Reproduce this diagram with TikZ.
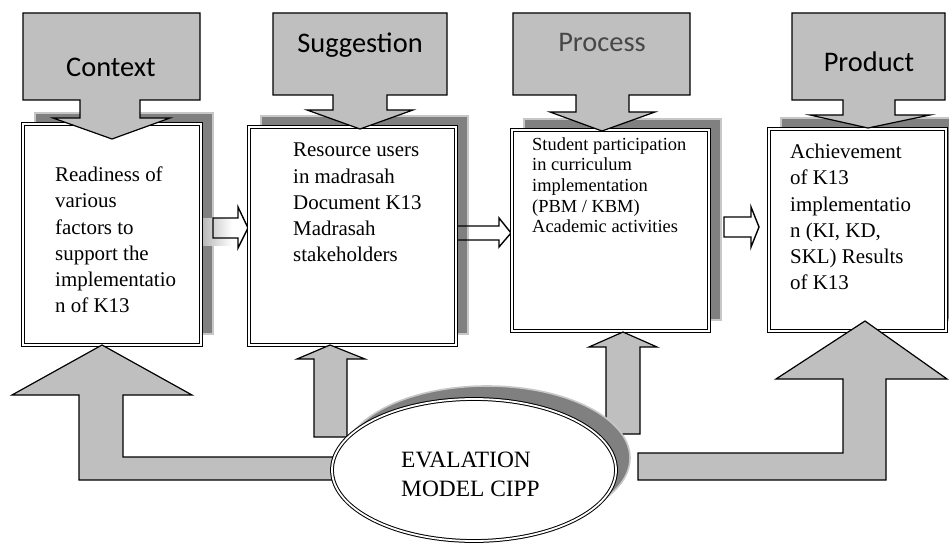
\documentclass[tikz,border=0pt]{standalone}
\usepackage{fontspec}
\setmainfont{Liberation Serif}
\newfontfamily\calib{Carlito}
\begin{document}
\begin{tikzpicture}[x=1bp,y=-1bp,
  shadowrect/.style={fill=black!50, draw=black!22, line width=1.6bp},
  dblbox/.style={draw=black, double=white, double distance=1.8bp, line width=1bp, fill=white},
  callout/.style={fill=black!25, draw=black, line width=1.2bp, line join=miter},
  hollow/.style={draw=black, line width=1.4bp, line join=miter},
  upshape/.style={fill=black!25, draw=black, line width=1.2bp, line join=miter},
  ttl/.style={font=\calib\fontsize{28.5}{30}\selectfont, inner sep=0pt, anchor=base},
  body/.style={font=\fontsize{21}{26.4}\selectfont, align=left, inner sep=0pt, anchor=base west},
  small/.style={font=\fontsize{18.5}{20.8}\selectfont, align=left, inner sep=0pt, anchor=base west}
]
\useasboundingbox (0,0) rectangle (949,545);

% box shadows
\path[shadowrect] (35,113) rectangle (213,334);
\path[shadowrect] (261,116) rectangle (468,334);
\path[shadowrect] (524,119) rectangle (721,320);
\path[shadowrect] (781,118) rectangle (970,320);

% faded band behind first arrow
\shade[left color=black!30, right color=white] (200,219) rectangle (232,246);

% horizontal hollow arrows
\draw[hollow] (213,218) -- (238,218) -- (238,207) -- (248,228) -- (238,248) -- (238,238) -- (213,238) -- cycle;
\draw[hollow] (455,226) -- (499,226) -- (499,218) -- (511,233) -- (499,247) -- (499,240) -- (455,240) -- cycle;
\draw[hollow] (724,217) -- (751,217) -- (751,207) -- (759,227) -- (751,247) -- (751,237) -- (724,237) -- cycle;

% boxes
\path[dblbox] (23,124) rectangle (201,345);
\path[dblbox] (249,127) rectangle (456,345);
\path[dblbox] (512,130) rectangle (709,331);
\path[dblbox] (769,129) rectangle (946,331);

% callouts
\path[callout] (23,13) -- (200,13) -- (200,100) -- (140,100) -- (140,118) -- (170,118) -- (112,139) -- (53,118) -- (80,118) -- (80,100) -- (23,100) -- cycle;
\path[callout] (273,13) -- (447,13) -- (447,95) -- (387,95) -- (387,110) -- (413,110) -- (360,129) -- (307,110) -- (333,110) -- (333,95) -- (273,95) -- cycle;
\path[callout] (513,13) -- (690,13) -- (690,95) -- (629,95) -- (629,112) -- (655,112) -- (602,131) -- (550,112) -- (576,112) -- (576,95) -- (513,95) -- cycle;
\path[callout] (792,13) -- (945,13) -- (945,100) -- (895,100) -- (895,115) -- (930,115) -- (868,128) -- (810,115) -- (843,115) -- (843,100) -- (792,100) -- cycle;

% upward arrows
\path[upshape] (79,480) -- (79,395) -- (12,395) -- (102,345) -- (192,395) -- (123,395) -- (123,457) -- (360,457) -- (360,480) -- cycle;
\path[upshape] (314,437) -- (314,359) -- (297,359) -- (330,345) -- (365,359) -- (347,359) -- (347,437) -- cycle;
\path[upshape] (606,434) -- (606,347) -- (589,347) -- (623,332) -- (657,347) -- (640,347) -- (640,434) -- cycle;
\path[upshape] (638,453) -- (843,453) -- (843,379) -- (776,379) -- (865,321) -- (947,379) -- (886,379) -- (886,480) -- (638,480) -- cycle;

% evaluation ellipse
\path[fill=black!50, draw=black!22, line width=1.6bp] (487,458) ellipse [x radius=143bp, y radius=72bp];
\path[dblbox] (474,470) ellipse [x radius=142bp, y radius=71bp];

% titles
\node[ttl] (tctx) at (111,77) {Context};
\node[ttl] (tsug) at (360,53) {Suggestion};
\node[ttl, text=black!72] (tpro) at (602,52) {Process};
\node[ttl] (tprd) at (869,72) {Product};

% box texts (anchor base = last line's baseline)
\node[body] (bctx) at (55,313) {Readiness of\\various\\factors to\\support the\\implementatio\\n of K13};
\node[body] (bsug) at (293,262) {Resource users\\in madrasah\\Document K13\\Madrasah\\stakeholders};
\node[small] (bpro) at (532,233) {Student participation\\in curriculum\\implementation\\(PBM / KBM)\\Academic activities};
\node[body] (bprd) at (790,290) {Achievement\\of K13\\implementatio\\n (KI, KD,\\SKL) Results\\of K13};

\node[font=\fontsize{23.5}{29}\selectfont, align=left, inner sep=0pt, anchor=base west] (eval) at (401,496) {EVALATION\\MODEL CIPP};
\end{tikzpicture}
\end{document}
